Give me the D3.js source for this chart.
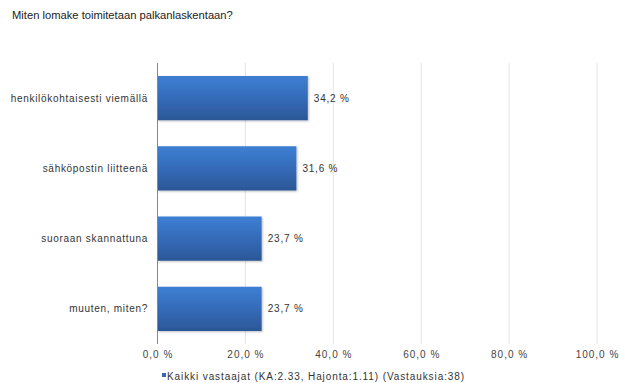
<!DOCTYPE html>
<html>
<head>
<meta charset="utf-8">
<script src="https://cdn.jsdelivr.net/npm/d3@7"></script>
<style>
  html, body { margin: 0; padding: 0; background: #fff; }
  svg { display: block; font-family: "Liberation Sans", Arial, sans-serif; }
</style>
</head>
<body>
<svg id="chart" width="619" height="383"></svg>
<script>
const title = "Miten lomake toimitetaan palkanlaskentaan?";
const categories = ["henkilökohtaisesti viemällä", "sähköpostin liitteenä", "suoraan skannattuna", "muuten, miten?"];
const values = [34.2, 31.6, 23.7, 23.7];
const ticks = [0, 20, 40, 60, 80, 100];
const legendLabel = "Kaikki vastaajat (KA:2.33, Hajonta:1.11) (Vastauksia:38)";

const fmt = v => v.toFixed(1).replace(".", ",") + " %";

const svg = d3.select("#chart");
const plotLeft = 157.5, plotRight = 597, plotTop = 63, plotBottom = 344;

const x = d3.scaleLinear().domain([0, 100]).range([plotLeft, plotRight]);
const y = d3.scaleBand().domain(categories).range([plotTop, plotBottom])
  .paddingInner(0.37).paddingOuter(0.185);

const defs = svg.append("defs");
const grad = defs.append("linearGradient").attr("id", "barGrad")
  .attr("x1", 0).attr("y1", 0).attr("x2", 0).attr("y2", 1);
grad.append("stop").attr("offset", "0%").attr("stop-color", "#3d7fd3");
grad.append("stop").attr("offset", "55%").attr("stop-color", "#3469b6");
grad.append("stop").attr("offset", "100%").attr("stop-color", "#2b5796");
const shadow = defs.append("filter").attr("id", "shadow")
  .attr("x", "-5%").attr("y", "-10%").attr("width", "115%").attr("height", "130%");
shadow.append("feDropShadow").attr("dx", 1).attr("dy", 1)
  .attr("stdDeviation", 1).attr("flood-color", "#000").attr("flood-opacity", 0.25);

// title
svg.append("text").attr("x", 12).attr("y", 19)
  .attr("font-size", 11.2).attr("fill", "#222").text(title);

// vertical grid lines
svg.append("g").selectAll("line").data(ticks.filter(t => t > 0)).join("line")
  .attr("x1", d => x(d)).attr("x2", d => x(d))
  .attr("y1", plotTop).attr("y2", plotBottom)
  .attr("stroke", "#e4e4e4").attr("stroke-width", 1);

// x tick labels
const xAxis = d3.axisBottom(x).tickValues(ticks).tickFormat(fmt).tickSize(0).tickPadding(0);
const gx = svg.append("g").attr("transform", `translate(0,${plotBottom + 7})`).call(xAxis);
gx.select(".domain").remove();
gx.selectAll("text").attr("font-size", 10).attr("fill", "#444")
  .attr("letter-spacing", 1).attr("font-family", "Liberation Sans, Arial, sans-serif");

// bars
svg.append("g").selectAll("rect").data(values).join("rect")
  .attr("x", x(0))
  .attr("y", (d, i) => y(categories[i]))
  .attr("width", d => x(d) - x(0))
  .attr("height", y.bandwidth())
  .attr("fill", "url(#barGrad)")
  .attr("filter", "url(#shadow)");

// value labels
svg.append("g").selectAll("text").data(values).join("text")
  .attr("x", d => x(d) + 6)
  .attr("y", (d, i) => y(categories[i]) + y.bandwidth() / 2)
  .attr("dy", "0.35em")
  .attr("font-size", 10).attr("fill", "#333").attr("letter-spacing", 0.8)
  .text(fmt);

// category labels
svg.append("g").selectAll("text").data(categories).join("text")
  .attr("x", 148)
  .attr("y", d => y(d) + y.bandwidth() / 2)
  .attr("dy", "0.35em")
  .attr("text-anchor", "end")
  .attr("font-size", 10).attr("fill", "#333").attr("letter-spacing", 0.7)
  .text(d => d);

// y axis line
svg.append("line").attr("x1", x(0)).attr("x2", x(0))
  .attr("y1", plotTop).attr("y2", plotBottom)
  .attr("stroke", "#888").attr("stroke-width", 1);

// legend
const lg = svg.append("g").attr("transform", "translate(162,376)");
lg.append("rect").attr("x", 0).attr("y", -3).attr("width", 4).attr("height", 4).attr("fill", "#3469b6");
lg.append("text").attr("x", 5).attr("y", 0).attr("dy", "0.35em")
  .attr("font-size", 10).attr("fill", "#333").attr("letter-spacing", 0.9)
  .text(legendLabel);
</script>
</body>
</html>
